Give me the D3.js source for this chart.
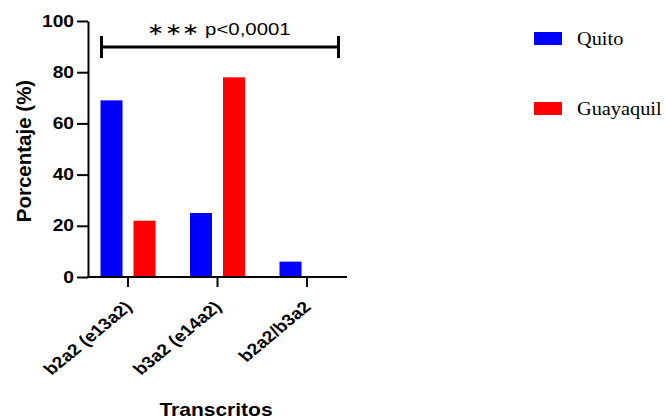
<!DOCTYPE html>
<html><head><meta charset="utf-8">
<script src="https://cdn.jsdelivr.net/npm/d3@7"></script>
<style>body{margin:0;background:#fff}svg{display:block}</style>
</head><body>
<svg id="c" width="665" height="419"></svg>
<script>
const categories = ["b2a2 (e13a2)", "b3a2 (e14a2)", "b2a2/b3a2"];
const seriesNames = ["Quito", "Guayaquil"];
const quito = [69, 25, 6];
const guayaquil = [22, 78, 0];
const yTicks = [0, 20, 40, 60, 80, 100];
const colors = ["#0000ff", "#ff0000"];
const sigText = "\u2217\u2217\u2217 p<0,0001";

const SX = 1.2; // horizontal stretch of the original figure's text
const svg = d3.select("#c");
const font = "'Liberation Sans', Arial, sans-serif";
const y = d3.scaleLinear().domain([0, 100]).range([277, 21]);
const x = d3.scalePoint().domain(categories).range([127.5, 306.5]);
const xi = d3.scaleBand().domain(seriesNames).range([-27, 28]).paddingInner(1/3);

const data = categories.map((c, i) => ({cat: c, vals: [quito[i], guayaquil[i]]}));

// bars
const g = svg.append("g");
data.forEach(d => {
  d.vals.forEach((v, j) => {
    if (v <= 0) return;
    g.append("rect")
      .attr("x", x(d.cat) + xi(seriesNames[j]))
      .attr("y", y(v))
      .attr("width", xi.bandwidth())
      .attr("height", y(0) - y(v))
      .attr("fill", colors[j]);
  });
});

// y axis
const ya = svg.append("g").attr("transform", "translate(88,0)")
  .call(d3.axisLeft(y).tickValues(yTicks).tickSize(11).tickSizeOuter(0).tickPadding(2));
ya.select(".domain").attr("stroke", "#000").attr("stroke-width", 2);
ya.selectAll(".tick line").attr("stroke", "#000").attr("stroke-width", 2);
ya.selectAll(".tick text").attr("font-family", font).attr("font-weight", "bold")
  .attr("font-size", 16).attr("fill", "#000")
  .attr("x", 0).attr("transform", `translate(-14,0) scale(${SX},1)`);

// x axis
const xa = svg.append("g").attr("transform", "translate(0,277)")
  .call(d3.axisBottom(x).tickSize(10).tickSizeOuter(0));
xa.select(".domain").remove();
xa.append("line").attr("x1", 87).attr("x2", 347).attr("y1", 0).attr("y2", 0)
  .attr("stroke", "#000").attr("stroke-width", 2);
xa.selectAll(".tick line").attr("stroke", "#000").attr("stroke-width", 2);
xa.selectAll(".tick text")
  .attr("font-family", font).attr("font-weight", "bold").attr("font-size", 16).attr("fill", "#000")
  .attr("text-anchor", "end").attr("dy", null).attr("y", 0)
  .attr("transform", `translate(5,31) scale(${SX},1) rotate(-45)`);

// axis titles
svg.append("text").attr("transform", "translate(31,151) rotate(-90)")
  .attr("text-anchor", "middle").attr("font-family", font).attr("font-weight", "bold")
  .attr("font-size", 20.5).text("Porcentaje (%)");
svg.append("text").attr("transform", `translate(216,416) scale(${SX},1)`)
  .attr("text-anchor", "middle").attr("font-family", font).attr("font-weight", "bold")
  .attr("font-size", 17.5).text("Transcritos");

// significance bracket
const bx1 = 101.5, bx2 = 338.5, by = 47;
svg.append("line").attr("x1", bx1).attr("x2", bx2).attr("y1", by).attr("y2", by)
  .attr("stroke", "#000").attr("stroke-width", 3);
[bx1, bx2].forEach(bx => svg.append("line").attr("x1", bx).attr("x2", bx)
  .attr("y1", 36).attr("y2", 58).attr("stroke", "#000").attr("stroke-width", 3));
svg.append("text").attr("transform", `translate(219,35) scale(${SX},1)`).attr("text-anchor", "middle")
  .attr("font-family", font).attr("font-size", 17).text(sigText);

// legend
const lg = svg.append("g");
seriesNames.forEach((s, i) => {
  const ly = 32 + i * 70;
  lg.append("rect").attr("x", 534).attr("y", ly).attr("width", 28).attr("height", 13)
    .attr("fill", colors[i]);
  lg.append("text").attr("transform", `translate(577,${ly + 13}) scale(1.13,1)`)
    .attr("font-family", "'Liberation Serif', 'Times New Roman', serif")
    .attr("font-size", 18).text(s);
});
</script>
</body></html>
